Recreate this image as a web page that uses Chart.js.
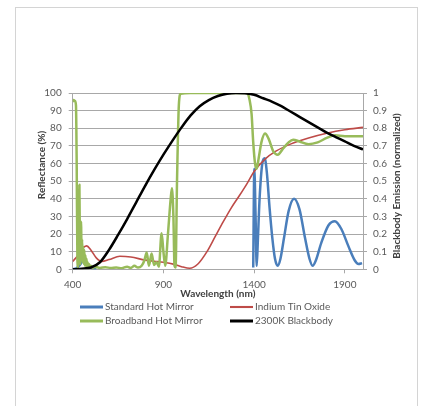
<!DOCTYPE html>
<html>
<head>
<meta charset="utf-8">
<script src="https://cdn.jsdelivr.net/npm/chart.js@4/dist/chart.umd.min.js"></script>
<style>
  body { margin: 0; background: #fff; }
  #frame { position: absolute; left: 15px; top: 7px; width: 401px; height: 420px; border: 1px solid #d4d4d4; }
  #wrap { position: absolute; left: 0; top: 0; width: 424px; height: 406px; }
</style>
</head>
<body>
<div id="frame"></div>
<div id="wrap"><canvas id="SpecChart" width="424" height="406"></canvas></div>
<script>
// series labels
var seriesNames = ["Standard Hot Mirror", "Indium Tin Oxide", "Broadband Hot Mirror", "2300K Blackbody"];
var xTicks = [400, 900, 1400, 1900];

// Standard Hot Mirror (reflectance %), null = not drawn
var blueNm  = [400, 420, 440, 455, 470, 490, 510, 530, 960, 1395, 1401, 1408, 1414, 1420, 1430, 1445, 1458, 1470, 1485, 1500, 1515, 1530, 1545, 1565, 1590, 1620, 1650, 1680, 1705, 1722, 1740, 1770, 1810, 1845, 1880, 1920, 1955, 1975, 1995];
var blueVal = [0, 0.5, 2.5, 4.5, 4, 1.5, 0.5, 0, null, 1, 57, 30, 2, 15, 40, 60, 63, 55, 35, 18, 6, 2, 6, 18, 33, 40, 34, 18, 6, 2, 5, 15, 25, 27.3, 23, 13, 5, 3, 3.5];

// Indium Tin Oxide (reflectance %)
var redNm  = [400, 430, 455, 477, 500, 530, 560, 600, 660, 720, 800, 850, 900, 960, 1000, 1045, 1090, 1140, 1185, 1230, 1275, 1320, 1360, 1400, 1460, 1520, 1600, 1700, 1800, 1900, 2000];
var redVal = [4.5, 8, 12, 13.3, 11, 6.5, 4.5, 5.5, 7.4, 7, 5.2, 4.6, 4, 2.8, 1.5, 0.6, 3, 10, 18.5, 27, 35, 42, 48.5, 55.5, 62.5, 67, 71, 74.5, 77.2, 79.2, 80.5];

// Broadband Hot Mirror (reflectance %)
var greenNm  = [400, 405, 412, 418, 422, 426, 430, 434, 437, 440, 443, 446, 449, 452, 455, 458, 461, 464, 467, 470, 473, 476, 479, 482, 486, 490, 495, 500, 510, 520, 550, 580, 610, 640, 670, 700, 720, 740, 760, 780, 795, 808, 820, 835, 848, 862, 875, 890, 900, 910, 925, 940, 947, 955, 961, 967, 975, 985, 995, 1050, 1150, 1250, 1360, 1375, 1386, 1395, 1405, 1414, 1425, 1440, 1460, 1480, 1505, 1530, 1560, 1590, 1615, 1650, 1700, 1750, 1800, 1845, 1900, 2000];
var greenVal = [95, 96, 95.5, 93, 60, 5, 1, 20, 48, 10, 3, 27, 8, 17, 4, 13, 3, 11, 2, 8, 2, 6, 1.5, 4, 1, 3, 1, 2, 0.8, 1.5, 0.8, 1.2, 0.7, 1, 0.6, 1.5, 0.8, 2, 1, 2, 5, 9.5, 2, 9, 2.5, 4, 1.5, 20.5, 10, 2, 20, 40, 46, 30, 2, 1, 50, 93, 99.5, 100, 100, 100, 100, 96, 88, 72, 60, 57, 63, 72, 77, 74, 67, 65, 68.5, 72, 73.5, 72.5, 71, 72, 74.5, 76, 75.5, 75.5];

// 2300K Blackbody (normalized emission, right axis)
var blackNm  = [400, 450, 500, 550, 600, 650, 700, 750, 800, 850, 900, 950, 1000, 1050, 1100, 1150, 1200, 1250, 1300, 1350, 1400, 1450, 1500, 1550, 1600, 1650, 1700, 1750, 1800, 1850, 1900, 1950, 2000];
var blackVal = [0, 0.003, 0.01, 0.04, 0.11, 0.195, 0.285, 0.38, 0.475, 0.565, 0.65, 0.73, 0.805, 0.873, 0.925, 0.96, 0.983, 0.996, 1, 0.998, 0.99, 0.97, 0.95, 0.925, 0.895, 0.865, 0.835, 0.805, 0.775, 0.75, 0.725, 0.7, 0.68];

function pts(xs, ys) {
  return xs.map(function (x, i) { return { x: x, y: ys[i] }; });
}

var tickFont = { family: "Lato", size: 10 };
var tickColor = "#595959";
var gridColor = "#a8a8a8";

// legend in two columns + rotated axis titles (bottom-to-top like the original)
var extraText = {
  id: "extraText",
  afterDraw: function (chart) {
    var ctx = chart.ctx;
    ctx.save();
    ctx.font = "bold 10px Lato";
    ctx.fillStyle = "#404040";
    ctx.textAlign = "center";
    ctx.textBaseline = "middle";
    ctx.translate(42, 165);
    ctx.rotate(-Math.PI / 2);
    ctx.fillText("Reflectance (%)", 0, 0);
    ctx.restore();

    ctx.save();
    ctx.font = "bold 10px Lato";
    ctx.fillStyle = "#404040";
    ctx.textAlign = "center";
    ctx.textBaseline = "middle";
    ctx.translate(397, 186);
    ctx.rotate(-Math.PI / 2);
    ctx.fillText("Blackbody Emission (normalized)", 0, 0);
    ctx.restore();

    var spots = [[80, 307], [230, 307], [80, 321], [230, 321]];
    ctx.save();
    ctx.font = "10px Lato";
    ctx.textBaseline = "middle";
    ctx.textAlign = "left";
    chart.data.datasets.forEach(function (ds, i) {
      var p = spots[i];
      ctx.strokeStyle = ds.borderColor;
      ctx.lineWidth = ds.borderWidth + 0.5;
      ctx.beginPath();
      ctx.moveTo(p[0], p[1]);
      ctx.lineTo(p[0] + 23, p[1]);
      ctx.stroke();
      ctx.fillStyle = tickColor;
      ctx.fillText(ds.label, p[0] + 25, p[1]);
    });
    ctx.restore();
  }
};

var cx = document.getElementById("SpecChart");
var specChart = new Chart(cx, {
  type: "line",
  data: {
    datasets: [
      { label: seriesNames[0], data: pts(blueNm, blueVal), borderColor: "#4a7ebb", borderWidth: 2.5, yAxisID: "y", order: 4, spanGaps: false },
      { label: seriesNames[1], data: pts(redNm, redVal), borderColor: "#be4b48", borderWidth: 1.6, yAxisID: "y", order: 3 },
      { label: seriesNames[2], data: pts(greenNm, greenVal), borderColor: "#98bb5a", borderWidth: 2.5, yAxisID: "y", order: 2 },
      { label: seriesNames[3], data: pts(blackNm, blackVal), borderColor: "#000000", borderWidth: 2.5, yAxisID: "y1", order: 1 }
    ]
  },
  options: {
    responsive: false,
    animation: false,
    elements: {
      point: { radius: 0 },
      line: { cubicInterpolationMode: "monotone", borderJoinStyle: "round" }
    },
    layout: { padding: { top: 93, left: 0, right: 0, bottom: 106 } },
    plugins: {
      legend: { display: false },
      tooltip: { enabled: false }
    },
    scales: {
      x: {
        type: "linear",
        min: 400,
        max: 2000,
        afterBuildTicks: function (scale) {
          scale.ticks = xTicks.map(function (v) { return { value: v }; });
        },
        afterFit: function (scale) { scale.height = 30.7; },
        grid: { drawOnChartArea: false, drawTicks: true, tickLength: 4, color: gridColor },
        border: { display: true, color: gridColor },
        ticks: { font: tickFont, color: tickColor, padding: 5, maxRotation: 0,
          callback: function (v) { return String(v); } },
        title: { display: true, text: "Wavelength (nm)", font: { family: "Lato", size: 10, weight: "bold" }, color: "#404040", padding: 0 }
      },
      y: {
        position: "left",
        min: 0,
        max: 100,
        afterFit: function (scale) { scale.width = 72.7; },
        ticks: { stepSize: 10, font: tickFont, color: tickColor, padding: 7 },
        grid: { color: gridColor, tickLength: 4 },
        border: { display: true, color: gridColor }
      },
      y1: {
        position: "right",
        min: 0,
        max: 1,
        afterFit: function (scale) { scale.width = 61; },
        ticks: { stepSize: 0.1, font: tickFont, color: tickColor, padding: 6,
          callback: function (v) { return Math.round(v * 10) / 10; } },
        grid: { drawOnChartArea: false, color: gridColor, tickLength: 4 },
        border: { display: true, color: gridColor }
      }
    }
  },
  plugins: [extraText]
});
</script>
</body>
</html>
